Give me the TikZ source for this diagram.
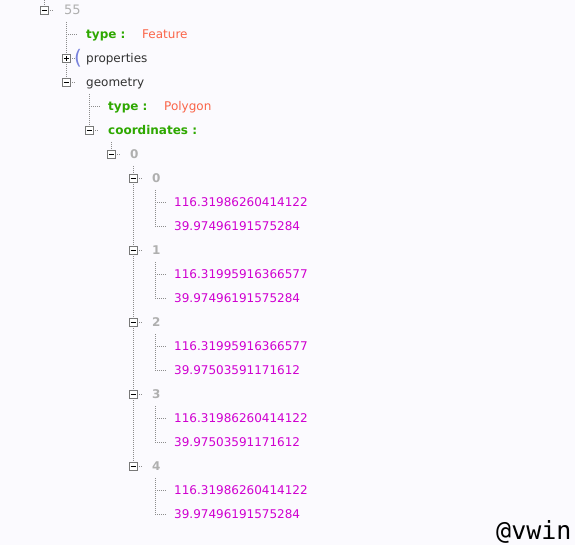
\documentclass[tikz,border=0pt]{standalone}
\usepackage{fontspec}
\setmainfont{DejaVu Sans}
\newfontfamily\monof{DejaVu Sans Mono}
\definecolor{bgc}{RGB}{251,250,254}
\definecolor{keyg}{RGB}{46,168,0}
\definecolor{strc}{RGB}{250,100,72}
\definecolor{numc}{RGB}{208,0,208}
\definecolor{idxc}{RGB}{175,175,175}
\definecolor{dotc}{RGB}{140,140,140}
\definecolor{boxc}{RGB}{120,120,120}
\definecolor{namec}{RGB}{50,50,50}
\definecolor{parc}{RGB}{120,130,220}
\pgfdeclarelayer{bg}
\pgfsetlayers{bg,main}
\begin{document}
\begin{tikzpicture}[x=1pt,y=-1pt,
  tbox/.style={draw=boxc,fill=white,minimum size=8pt,inner sep=0pt,line width=0.7pt},
  tminus/.style={tbox,path picture={\draw[black,line width=1pt]
     ([xshift=-2.5pt]path picture bounding box.center) -- ([xshift=2.5pt]path picture bounding box.center);}},
  tplus/.style={tbox,path picture={\draw[black,line width=1pt]
     ([xshift=-2.5pt]path picture bounding box.center) -- ([xshift=2.5pt]path picture bounding box.center)
     ([yshift=-2.5pt]path picture bounding box.center) -- ([yshift=2.5pt]path picture bounding box.center);}},
  dotl/.style={draw=dotc,line width=0.8pt,dash pattern=on 1pt off 1pt},
  txt/.style={anchor=base west,inner sep=0pt,font=\fontsize{12}{14}\selectfont},
  keyt/.style={txt,text=keyg,font=\fontsize{12}{14}\selectfont\bfseries},
  strt/.style={txt,text=strc},
  numt/.style={txt,text=numc},
  namet/.style={txt,text=namec},
  idxt/.style={txt,text=idxc,font=\fontsize{12}{14}\selectfont\bfseries},
]
\begin{pgfonlayer}{bg}
\fill[bgc] (0,0) rectangle (575,545);
\end{pgfonlayer}
\useasboundingbox (0,0) rectangle (575,545);

% root 55
\node[tminus] (b55) at (44,10.5) {};
\node[txt,text=idxc,font=\fontsize{13}{14}\selectfont] (t55) at (64,15) {55};
\coordinate (top) at (44,0);
\coordinate (v55) at (66,22);

% type : Feature
\coordinate (l1) at (66,34);
\node[keyt] (k1) at (86,38.5) {type :};
\node[strt] (s1) at (142,38.5) {Feature};
\coordinate (l1e) at (77,34);

% properties
\node[tplus] (bprop) at (66,58.5) {};
\node[txt,text=parc,font=\fontsize{20}{22}\selectfont] (par) at (74,65) {(};
\node[namet] (tprop) at (86,62.5) {properties};

% geometry
\node[tminus] (bgeo) at (66,82.5) {};
\node[namet] (tgeo) at (86,86.5) {geometry};
\coordinate (vgeo) at (89,94);

% type : Polygon
\coordinate (l2) at (89,106);
\coordinate (l2e) at (100,106);
\node[keyt] (k2) at (108,110.5) {type :};
\node[strt] (s2) at (164,110.5) {Polygon};

% coordinates
\node[tminus] (bcoord) at (89,130.5) {};
\node[keyt] (kc) at (108,134.5) {coordinates :};
\coordinate (vcoord) at (111,142);

% 0
\node[tminus] (bz) at (111,154.5) {};
\node[idxt] (tz) at (130,158.5) {0};
\coordinate (vz) at (133,166);

\begin{pgfonlayer}{bg}
\draw[dotl] (top) -- (b55.north);
\draw[dotl] (b55.east) -- ++(5,0);
\draw[dotl] (v55) -- (bgeo.north);
\draw[dotl] (l1) -- (l1e);
\draw[dotl] (bprop.east) -- ++(5,0);
\draw[dotl] (bgeo.east) -- ++(5,0);
\draw[dotl] (vgeo) -- (bcoord.north);
\draw[dotl] (l2) -- (l2e);
\draw[dotl] (bcoord.east) -- ++(5,0);
\draw[dotl] (vcoord) -- (bz.north);
\draw[dotl] (bz.east) -- ++(5,0);
\end{pgfonlayer}

\foreach \i/\a/\b in {0/116.31986260414122/39.97496191575284,
                      1/116.31995916366577/39.97496191575284,
                      2/116.31995916366577/39.97503591171612,
                      3/116.31986260414122/39.97503591171612,
                      4/116.31986260414122/39.97496191575284}{
  \pgfmathsetmacro{\yy}{178+72*\i}
  \node[tminus] (bi\i) at (133,\yy+0.5) {};
  \node[idxt] (ti\i) at (152,\yy+4.5) {\i};
  \coordinate (vi\i) at (155,\yy+12);
  \coordinate (la\i) at (155,\yy+24);
  \coordinate (lae\i) at (166,\yy+24);
  \coordinate (lb\i) at (155,\yy+48);
  \coordinate (lbe\i) at (166,\yy+48);
  \node[numt] (na\i) at (174,\yy+28.5) {\a};
  \node[numt] (nb\i) at (174,\yy+52.5) {\b};
  \begin{pgfonlayer}{bg}
  \draw[dotl] (bi\i.east) -- ++(5,0);
  \draw[dotl] (vi\i) -- (lb\i) -- (lbe\i);
  \draw[dotl] (la\i) -- (lae\i);
  \end{pgfonlayer}
}
\begin{pgfonlayer}{bg}
\draw[dotl] (vz) -- (bi4.north);
\end{pgfonlayer}

% watermark
\node[anchor=base west,inner sep=0pt,font=\monof\fontsize{25}{28}\selectfont,text=black] (wm) at (496,539) {@vwin};
\end{tikzpicture}
\end{document}
